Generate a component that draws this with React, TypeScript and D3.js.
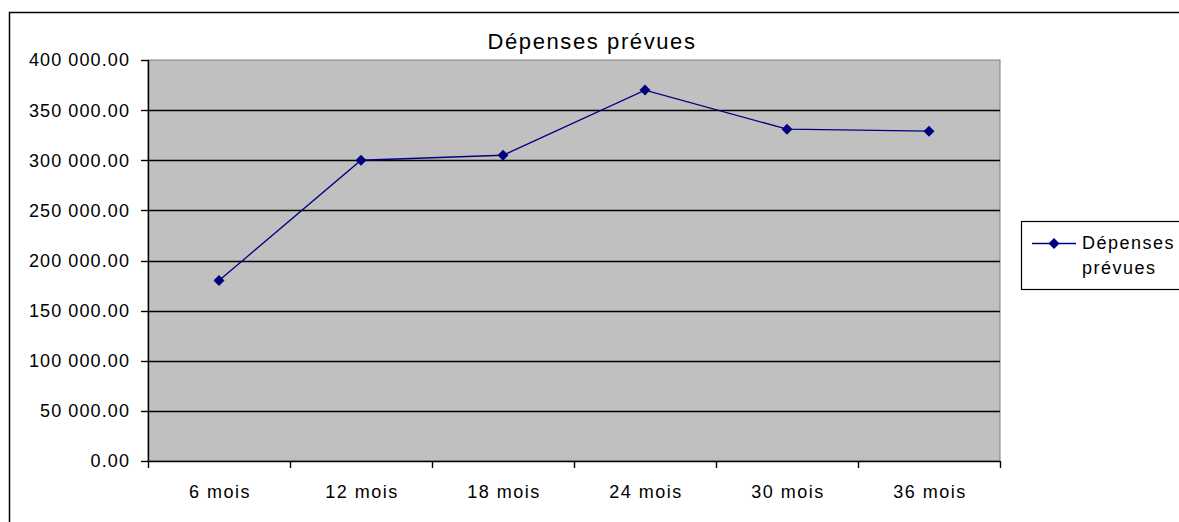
import React from "react";
import * as d3 from "d3";

const categories = ["6 mois", "12 mois", "18 mois", "24 mois", "30 mois", "36 mois"];
const values = [180000, 300000, 305000, 370000, 331000, 329000];
const yTicks = [0, 50000, 100000, 150000, 200000, 250000, 300000, 350000, 400000];
const seriesName = "Dépenses prévues";
const title = "Dépenses prévues";

const W = 1179;
const H = 522;
const plot = { left: 148, top: 60, right: 1000, bottom: 461 };
const FONT = "'Liberation Sans', Arial, sans-serif";

const fmt = (v: number) => {
  const s = d3.format(",.2f")(v);
  return s.replace(/,/g, " ");
};

export default function App() {
  const x = d3
    .scaleBand<string>()
    .domain(categories)
    .range([plot.left, plot.right])
    .padding(0);
  const y = d3.scaleLinear().domain([0, 400000]).range([plot.bottom, plot.top]);

  const pts = categories.map((c, i) => [x(c)! + x.bandwidth() / 2, y(values[i])] as [number, number]);
  const line = d3.line<[number, number]>()(pts) || "";
  const diamond = (cx: number, cy: number, r = 5.5) =>
    `M${cx},${cy - r}L${cx + r},${cy}L${cx},${cy + r}L${cx - r},${cy}Z`;

  const xTickPos = categories.map((c) => x(c)!).concat([plot.right]);

  return (
    <svg
      width={W}
      height={H}
      style={{ position: "absolute", left: 0, top: 0, background: "#fff" }}
      fontFamily={FONT}
    >
      <rect x={0} y={0} width={W} height={H} fill="#fff" />
      {/* outer frame */}
      <rect x={9.5} y={12.5} width={W + 20} height={H + 20} fill="none" stroke="#000" strokeWidth={1.5} />

      <text x={592} y={49} textAnchor="middle" fontSize={22} letterSpacing={1.6} fill="#000">
        {title}
      </text>

      {/* plot area */}
      <rect
        x={plot.left}
        y={plot.top}
        width={plot.right - plot.left}
        height={plot.bottom - plot.top}
        fill="#C0C0C0"
        stroke="#808080"
        strokeWidth={1}
      />
      {yTicks.slice(1, -1).map((t) => (
        <line
          key={"g" + t}
          x1={plot.left}
          x2={plot.right}
          y1={Math.round(y(t)) + 0.5}
          y2={Math.round(y(t)) + 0.5}
          stroke="#000"
          strokeWidth={1.4}
        />
      ))}

      {/* y axis */}
      <line x1={plot.left + 0.5} x2={plot.left + 0.5} y1={plot.top} y2={plot.bottom} stroke="#000" strokeWidth={1.4} />
      {yTicks.map((t) => (
        <g key={"y" + t}>
          <line
            x1={plot.left - 7}
            x2={plot.left}
            y1={Math.round(y(t)) + 0.5}
            y2={Math.round(y(t)) + 0.5}
            stroke="#000"
            strokeWidth={1.4}
          />
          <text x={130} y={y(t)} dy="0.36em" textAnchor="end" fontSize={18} letterSpacing={1.1} fill="#000">
            {fmt(t)}
          </text>
        </g>
      ))}

      {/* x axis */}
      <line x1={plot.left} x2={plot.right} y1={plot.bottom + 0.5} y2={plot.bottom + 0.5} stroke="#000" strokeWidth={1.4} />
      {xTickPos.map((p, i) => (
        <line key={"xt" + i} x1={p + 0.5} x2={p + 0.5} y1={plot.bottom} y2={plot.bottom + 7} stroke="#000" strokeWidth={1.4} />
      ))}
      {categories.map((c) => (
        <text key={c} x={x(c)! + x.bandwidth() / 2 + 1} y={498} textAnchor="middle" fontSize={18} letterSpacing={1.5} fill="#000">
          {c}
        </text>
      ))}

      {/* series */}
      <path d={line} fill="none" stroke="#000080" strokeWidth={1.3} />
      {pts.map(([cx, cy], i) => (
        <path key={"m" + i} d={diamond(cx, cy)} fill="#000080" />
      ))}

      {/* legend */}
      <rect x={1021.5} y={221.5} width={200} height={68} fill="#fff" stroke="#000" strokeWidth={1.2} />
      <line x1={1032} x2={1076} y1={243.5} y2={243.5} stroke="#000080" strokeWidth={1.3} />
      <path d={diamond(1054, 243.5)} fill="#000080" />
      <text x={1082} y={249} fontSize={18} letterSpacing={1.5} fill="#000">
        {seriesName.split(" ")[0]}
      </text>
      <text x={1082} y={274} fontSize={18} letterSpacing={1.5} fill="#000">
        {seriesName.split(" ")[1]}
      </text>
    </svg>
  );
}
